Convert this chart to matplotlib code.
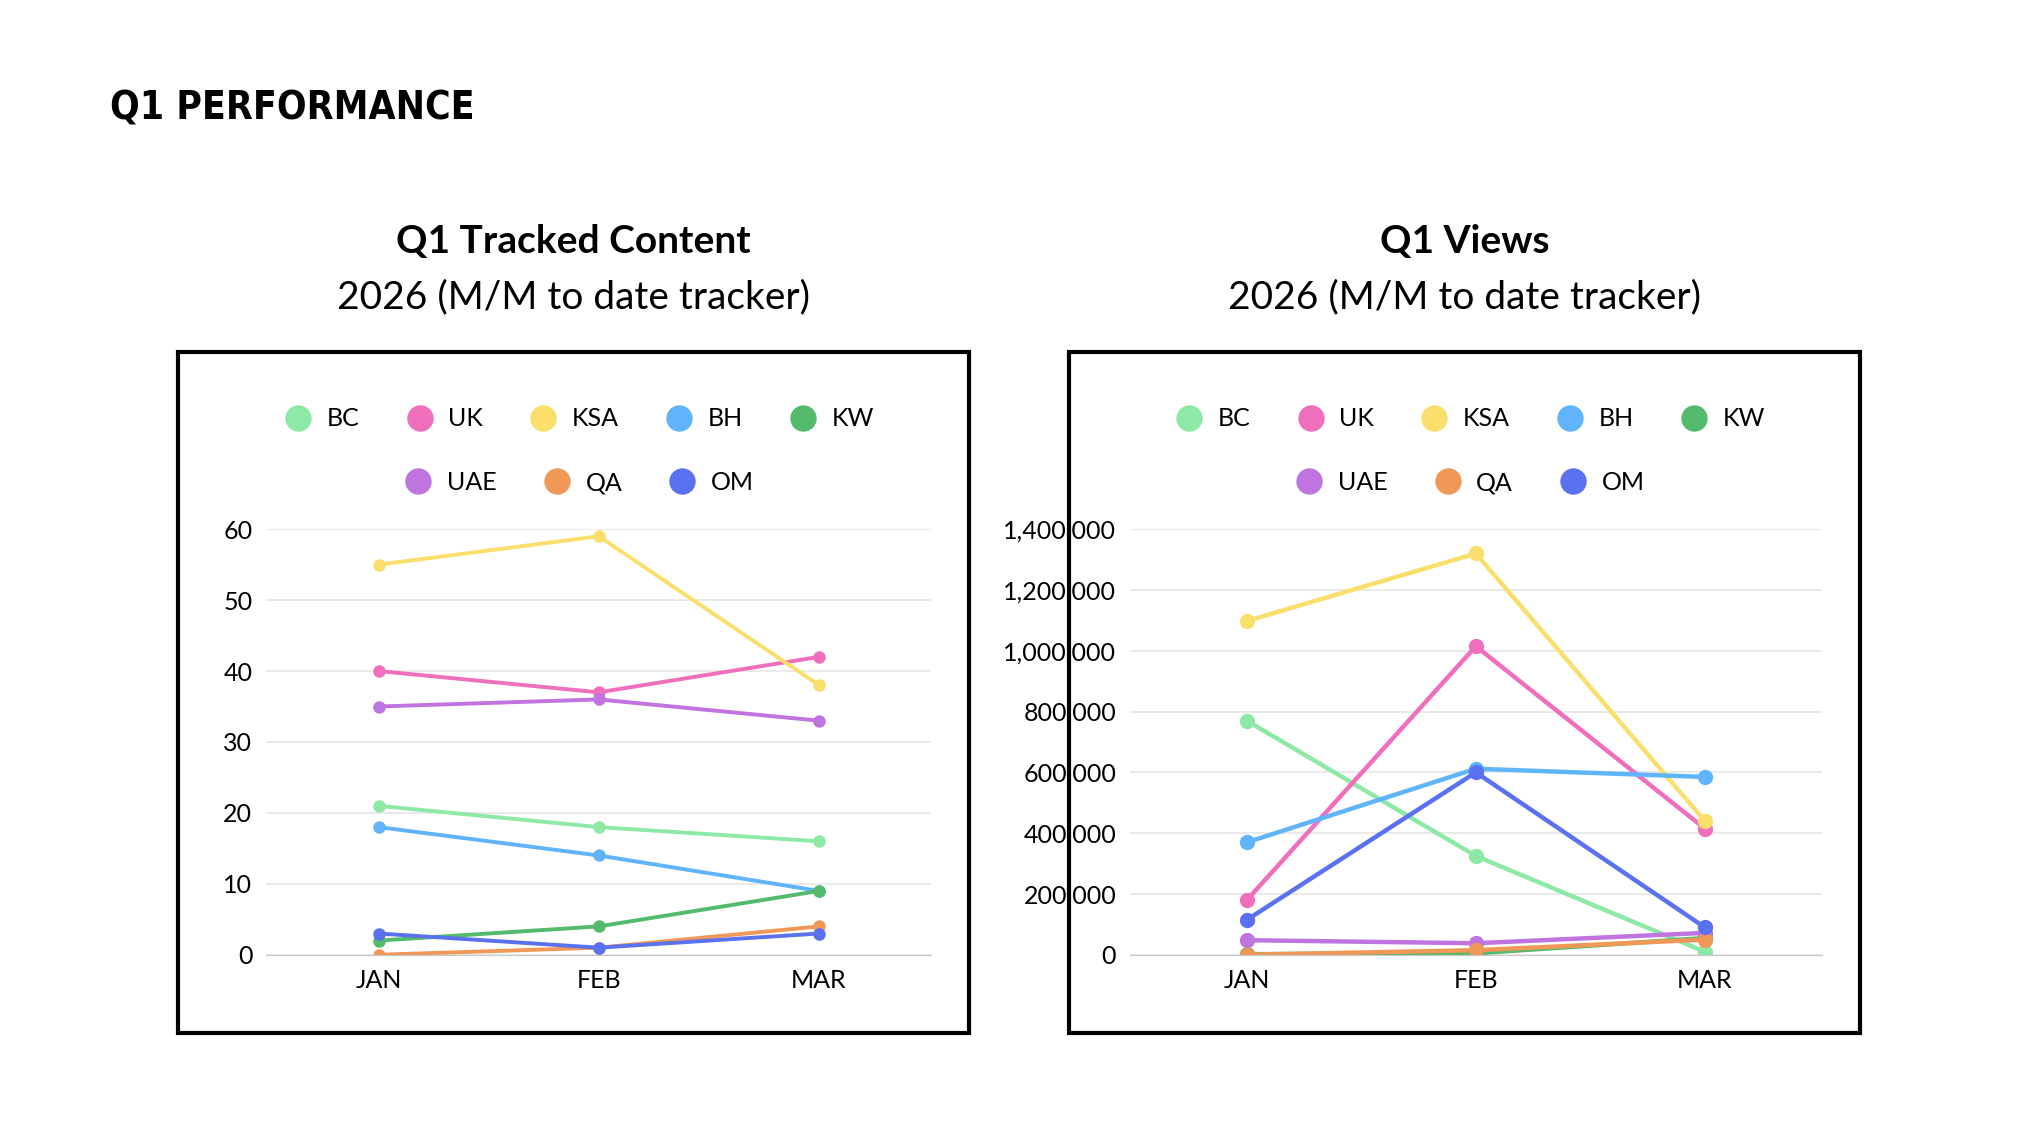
import matplotlib.pyplot as plt
from matplotlib.lines import Line2D
from matplotlib.patches import Rectangle
from matplotlib.ticker import FuncFormatter

months = ['JAN', 'FEB', 'MAR']
series = ['BC', 'UK', 'KSA', 'BH', 'KW', 'UAE', 'QA', 'OM']
colors = ['#8ee8a6', '#ef6fbd', '#fadf6c', '#5fb4fa', '#55bb6c', '#bf74e0', '#f09858', '#5a71f0']

content = {
    'BC': [21, 18, 16], 'UK': [40, 37, 42], 'KSA': [55, 59, 38], 'BH': [18, 14, 9],
    'KW': [2, 4, 9], 'UAE': [35, 36, 33], 'QA': [0, 1, 4], 'OM': [3, 1, 3],
}
views = {
    'BC': [770000, 325000, 10000], 'UK': [180000, 1015000, 415000],
    'KSA': [1098000, 1320000, 440000], 'BH': [370000, 612000, 585000],
    'KW': [2000, 5000, 55000], 'UAE': [48000, 38000, 72000],
    'QA': [0, 15000, 50000], 'OM': [115000, 600000, 90000],
}

plt.rcParams['font.family'] = ['Lato', 'DejaVu Sans']
fig = plt.figure(figsize=(20.34, 11.38), dpi=100)
fig.text(0.054, 0.905, 'Q1 PERFORMANCE', fontsize=28, fontweight='bold',
         family=['DejaVu Sans'], fontstretch='condensed', va='center')


def draw_panel(box_left, ax_left, ax_width, title, data, ymax, step, fmt, lw, ms):
    fig.add_artist(Rectangle((box_left, 0.0925), 0.389, 0.598, transform=fig.transFigure,
                             fill=False, edgecolor='black', linewidth=3))
    cx = box_left + 0.389 / 2
    fig.text(cx, 0.788, title, ha='center', va='center', fontsize=28, fontweight='bold')
    fig.text(cx, 0.739, '2026 (M/M to date tracker)', ha='center', va='center', fontsize=28)
    ax = fig.add_axes([ax_left, 0.161, ax_width, 0.374])
    for name, c in zip(series, colors):
        ax.plot(range(3), data[name], color=c, linewidth=lw, marker='o', markersize=ms)
    ax.set_xlim(-0.51, 2.51)
    ax.set_ylim(0, ymax)
    ax.set_yticks(range(0, ymax + 1, step))
    ax.yaxis.set_major_formatter(FuncFormatter(fmt))
    ax.set_xticks(range(3))
    ax.set_xticklabels(months)
    ax.tick_params(length=0, labelsize=18, pad=10)
    ax.grid(axis='y', color='#e6e6e6', linewidth=1.2)
    ax.set_axisbelow(True)
    for s in ['top', 'right', 'left']:
        ax.spines[s].set_visible(False)
    ax.spines['bottom'].set_color('#c8c8c8')
    handles = [Line2D([], [], linestyle='none', marker='o', markersize=18, color=c) for c in colors]
    for rows, y in [(slice(0, 5), 0.632), (slice(5, 8), 0.576)]:
        fig.legend(handles[rows], series[rows], loc='center', bbox_to_anchor=(cx, y),
                   ncol=len(series[rows]), frameon=False, fontsize=18,
                   handletextpad=0.15, columnspacing=1.4)
    return ax


draw_panel(0.0875, 0.1309, 0.327, 'Q1 Tracked Content', content, 60, 10,
           lambda v, p: f'{int(v)}', 2.8, 8)
draw_panel(0.5255, 0.5556, 0.340, 'Q1 Views', views, 1400000, 200000,
           lambda v, p: f'{int(v):,}', 3.2, 10)

fig.savefig('out.png')
